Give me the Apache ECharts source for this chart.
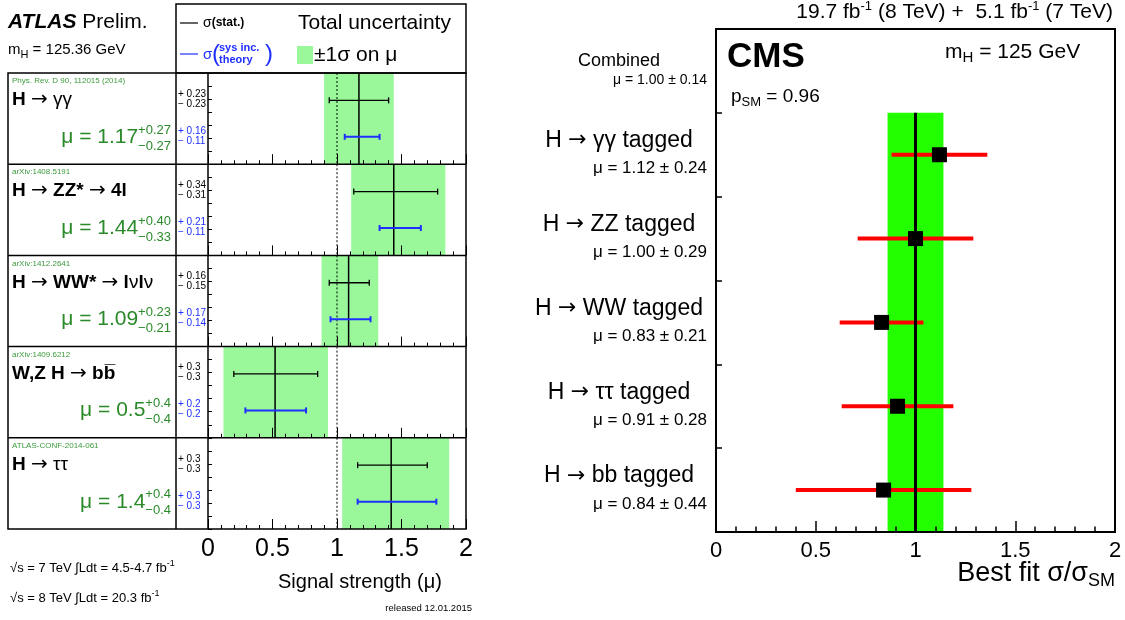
<!DOCTYPE html>
<html>
<head>
<meta charset="utf-8">
<script src="https://cdn.jsdelivr.net/npm/echarts@6/dist/echarts.min.js"></script>
<style>
html, body { margin: 0; padding: 0; background: #fff; }
#main { width: 1125px; height: 620px; }
</style>
</head>
<body>
<div id="main"></div>
<script>
// ---- ATLAS data ----
var atlasRefs = ['Phys. Rev. D 90, 112015 (2014)', 'arXiv:1408.5191', 'arXiv:1412.2641', 'arXiv:1409.6212', 'ATLAS-CONF-2014-061'];
var atlasNames = [
  '{b|H }{a|→}{n| γγ}',
  '{b|H }{a|→}{b| ZZ* }{a|→}{b| 4l}',
  '{b|H }{a|→}{b| WW* }{a|→}{b| l}{n|ν}{b|l}{n|ν}',
  '{b|W,Z H }{a|→}{b| bb\u0305}',
  '{b|H }{a|→}{n| ττ}'
];
var atlasMu = [1.17, 1.44, 1.09, 0.52, 1.42];
var atlasTotDn = [0.27, 0.33, 0.21, 0.40, 0.38];
var atlasTotUp = [0.27, 0.40, 0.23, 0.41, 0.45];
var atlasStatDn = [0.23, 0.31, 0.15, 0.32, 0.26];
var atlasStatUp = [0.23, 0.34, 0.16, 0.33, 0.28];
var atlasSysDn = [0.11, 0.11, 0.14, 0.23, 0.26];
var atlasSysUp = [0.16, 0.21, 0.17, 0.24, 0.35];
// printed numbers
var atlasMuText = ['1.17', '1.44', '1.09', '0.5', '1.4'];
var atlasTotText = [['+0.27', '−0.27'], ['+0.40', '−0.33'], ['+0.23', '−0.21'], ['+0.4', '−0.4'], ['+0.4', '−0.4']];
var atlasStatText = [['+ 0.23', '− 0.23'], ['+ 0.34', '− 0.31'], ['+ 0.16', '− 0.15'], ['+ 0.3', '− 0.3'], ['+ 0.3', '− 0.3']];
var atlasSysText = [['+ 0.16', '− 0.11'], ['+ 0.21', '− 0.11'], ['+ 0.17', '− 0.14'], ['+ 0.2', '− 0.2'], ['+ 0.3', '− 0.3']];

// ---- CMS data ----
var cmsChannels = ['γγ', 'ZZ', 'WW', 'ττ', 'bb'];
var cmsMu = [1.12, 1.00, 0.83, 0.91, 0.84];
var cmsErr = [0.24, 0.29, 0.21, 0.28, 0.44];
var cmsCombined = [1.00, 0.14];

var FONT = '"Liberation Sans", Arial, Helvetica, sans-serif';
var ARROW_FONT = '"DejaVu Sans", sans-serif';
var ROW_H = 91.2;
var Y_MAX = 7;              // row height in y units (7 small ticks per row)
var STAT_Y = 4.9, SYS_Y = 2.1;
var BLUE = '#1f2fff';
var GREEN_TXT = '#2a8a2a';
var ATLAS_BAND = '#9af89a';
var CMS_BAND = '#24ff00';

var ctx = document.createElement('canvas').getContext('2d');
function tw(s, size) {
  ctx.font = size + 'px ' + FONT;
  return ctx.measureText(s).width;
}
function R(size, o) {
  o = o || {};
  var r = {fontSize: size, fontFamily: o.family || FONT, fontWeight: o.bold ? 'bold' : 'normal',
    fontStyle: o.italic ? 'italic' : 'normal', fill: o.color || '#000'};
  if (o.pad) r.padding = o.pad;
  return r;
}
function txt(x, y, text, size, o) {
  o = o || {};
  var st = {text: text, fontSize: size, fontFamily: FONT, fontWeight: o.bold ? 'bold' : 'normal',
    fill: o.color || '#000', align: o.align || 'left', verticalAlign: 'middle'};
  if (o.rich) st.rich = o.rich;
  return {type: 'text', x: x, y: y, z: 100, silent: true, style: st};
}
function line(x1, y1, x2, y2, w, c) {
  return {type: 'line', z: 100, silent: true, shape: {x1: x1, y1: y1, x2: x2, y2: y2},
    style: {stroke: c || '#000', lineWidth: w || 1.5}};
}

function errBar(api, mu, dn, up, y, color, width) {
  var a = api.coord([mu - dn, y]), b = api.coord([mu + up, y]);
  return [
    {type: 'line', shape: {x1: a[0], y1: a[1], x2: b[0], y2: b[1]}, style: {stroke: color, lineWidth: width}},
    {type: 'line', shape: {x1: a[0], y1: a[1] - 3, x2: a[0], y2: a[1] + 3}, style: {stroke: color, lineWidth: width}},
    {type: 'line', shape: {x1: b[0], y1: b[1] - 3, x2: b[0], y2: b[1] + 3}, style: {stroke: color, lineWidth: width}}
  ];
}

function atlasRender(params, api) {
  var mu = api.value(0);
  var b0 = api.coord([mu - api.value(1), Y_MAX]), b1 = api.coord([mu + api.value(2), 0]);
  var m0 = api.coord([mu, Y_MAX]), m1 = api.coord([mu, 0]);
  var r0 = api.coord([1, Y_MAX]), r1 = api.coord([1, 0]);
  var kids = [
    {type: 'rect', shape: {x: b0[0], y: b0[1], width: b1[0] - b0[0], height: b1[1] - b0[1]}, style: {fill: ATLAS_BAND}},
    {type: 'line', shape: {x1: r0[0], y1: r0[1], x2: r1[0], y2: r1[1]}, style: {stroke: '#000', lineWidth: 1, lineDash: [2, 2]}},
    {type: 'line', shape: {x1: m0[0], y1: m0[1], x2: m1[0], y2: m1[1]}, style: {stroke: '#000', lineWidth: 1.5}}
  ];
  kids = kids.concat(errBar(api, mu, api.value(3), api.value(4), STAT_Y, '#000', 1.3));
  kids = kids.concat(errBar(api, mu, api.value(5), api.value(6), SYS_Y, BLUE, 2));
  return {type: 'group', children: kids};
}

var grids = [], xAxes = [], yAxes = [], series = [], graphics = [];

for (var i = 0; i < atlasMu.length; i++) {
  var rowTop = 73 + ROW_H * i;
  grids.push({left: 208, top: rowTop, width: 258, height: ROW_H, outerBoundsMode: 'none', containLabel: false});
  xAxes.push({type: 'value', gridIndex: i, min: 0, max: 2, interval: 0.5, z: 10,
    axisLine: {show: false}, splitLine: {show: false},
    axisTick: {show: true, inside: true, length: 10, lineStyle: {color: '#000', width: 1}},
    minorTick: {show: true, splitNumber: 5, length: 4, lineStyle: {color: '#000', width: 1}},
    axisLabel: {show: i === atlasMu.length - 1, fontSize: 25, fontFamily: FONT, color: '#000', margin: 8}});
  yAxes.push({type: 'value', gridIndex: i, min: 0, max: Y_MAX, interval: 1, z: 10,
    axisLine: {show: false}, splitLine: {show: false},
    axisTick: {show: true, inside: true, length: 4, lineStyle: {color: '#000', width: 1}},
    axisLabel: {show: false}});
  series.push({type: 'custom', xAxisIndex: i, yAxisIndex: i, silent: true, renderItem: atlasRender,
    data: [[atlasMu[i], atlasTotDn[i], atlasTotUp[i], atlasStatDn[i], atlasStatUp[i], atlasSysDn[i], atlasSysUp[i]]]});

  // row labels
  graphics.push(txt(12, rowTop + 8, atlasRefs[i], 8, {color: '#3c9a3c'}));
  graphics.push(txt(12, rowTop + 27, atlasNames[i], 19,
    {rich: {b: R(19, {bold: true}), n: R(19), a: R(20, {family: ARROW_FONT})}}));
  var supW = Math.max(tw(atlasTotText[i][0], 13), tw(atlasTotText[i][1], 13));
  var x0 = 171 - supW;
  graphics.push(txt(x0, rowTop + 64, 'μ = ' + atlasMuText[i], 21, {color: GREEN_TXT, align: 'right'}));
  graphics.push(txt(x0, rowTop + 57, atlasTotText[i][0], 13, {color: GREEN_TXT}));
  graphics.push(txt(x0, rowTop + 73, atlasTotText[i][1], 13, {color: GREEN_TXT}));
  graphics.push(txt(178, rowTop + 21, atlasStatText[i][0], 10));
  graphics.push(txt(178, rowTop + 31, atlasStatText[i][1], 10));
  graphics.push(txt(178, rowTop + 58, atlasSysText[i][0], 10, {color: BLUE}));
  graphics.push(txt(178, rowTop + 68, atlasSysText[i][1], 10, {color: BLUE}));
  if (i > 0) graphics.push(line(8, rowTop, 466, rowTop));
}

// ATLAS frames
var atlasBottom = 73 + ROW_H * atlasMu.length;
graphics.push({type: 'rect', z: 100, silent: true, shape: {x: 8, y: 73, width: 458, height: atlasBottom - 73},
  style: {fill: 'none', stroke: '#000', lineWidth: 1.5}});
graphics.push({type: 'rect', z: 100, silent: true, shape: {x: 176, y: 4, width: 290, height: 69},
  style: {fill: 'none', stroke: '#000', lineWidth: 1.5}});
graphics.push(line(176, 73, 176, atlasBottom));
graphics.push(line(208, 73, 208, atlasBottom));

// ATLAS header & legend
graphics.push(txt(8, 22, '{bi|ATLAS}{n| Prelim.}', 21, {rich: {bi: R(21, {bold: true, italic: true}), n: R(21)}}));
graphics.push(txt(8, 50, '{n|m}{s|H}{n| = 125.36 GeV}', 15, {rich: {n: R(15), s: R(11, {pad: [9, 0, 0, 0]})}}));
graphics.push(line(180, 23, 198, 23, 1.2, '#000'));
graphics.push(txt(203, 23, '{n|σ}{b|(stat.)}', 13, {rich: {n: R(14), b: R(12, {bold: true})}}));
graphics.push(line(180, 54, 198, 54, 1.2, BLUE));
graphics.push(txt(203, 55, 'σ', 15, {color: BLUE}));
graphics.push(txt(212, 54, '(', 24, {color: BLUE}));
graphics.push(txt(219, 48, 'sys inc.', 11, {color: BLUE, bold: true}));
graphics.push(txt(219, 60, 'theory', 11, {color: BLUE, bold: true}));
graphics.push(txt(265, 54, ')', 24, {color: BLUE}));
graphics.push(txt(298, 23, 'Total uncertainty', 21));
graphics.push({type: 'rect', z: 100, silent: true, shape: {x: 297, y: 46, width: 16, height: 18}, style: {fill: ATLAS_BAND}});
graphics.push(txt(314, 55, '±1σ on μ', 21));

// ATLAS footer
var supRich = {n: R(13), s: R(9, {pad: [0, 0, 9, 0]})};
graphics.push(txt(10, 568, '{n|√s = 7 TeV ∫Ldt = 4.5-4.7 fb}{s|-1}', 13, {rich: supRich}));
graphics.push(txt(10, 598, '{n|√s = 8 TeV ∫Ldt = 20.3 fb}{s|-1}', 13, {rich: supRich}));
graphics.push(txt(278, 582, 'Signal strength (μ)', 20));
graphics.push(txt(472, 608, 'released 12.01.2015', 9.5, {align: 'right'}));

// ---- CMS panel ----
var nCms = cmsChannels.length;
var cmsRows = cmsChannels.slice().reverse().concat(['Combined']);
var cmsRowMu = cmsMu.slice().reverse().concat([cmsCombined[0]]);
var cmsRowErr = cmsErr.slice().reverse().concat([cmsCombined[1]]);

grids.push({left: 716, top: 29, width: 399, height: 503, show: true, borderColor: '#000', borderWidth: 2,
  backgroundColor: 'transparent', outerBoundsMode: 'none', containLabel: false});
var G = grids.length - 1;
xAxes.push({type: 'value', gridIndex: G, min: 0, max: 2, interval: 0.5, z: 10,
  axisLine: {show: true, lineStyle: {color: '#000', width: 2}}, splitLine: {show: false},
  axisTick: {show: true, inside: true, length: 11, lineStyle: {color: '#000', width: 1.5}},
  minorTick: {show: true, splitNumber: 5, length: 5.5, lineStyle: {color: '#000', width: 1.5}},
  axisLabel: {fontSize: 22, fontFamily: FONT, color: '#000', margin: 8}});
yAxes.push({type: 'value', gridIndex: G, position: 'left', min: 0, max: nCms + 1, interval: 1, z: 10,
  axisLine: {show: true, lineStyle: {color: '#000', width: 2}}, splitLine: {show: false},
  axisTick: {show: true, inside: true, length: 6, lineStyle: {color: '#000', width: 1.5}},
  axisLabel: {show: false}});
var YV = yAxes.length - 1;
yAxes.push({type: 'category', gridIndex: G, position: 'left', offset: 0, data: cmsRows, boundaryGap: true,
  axisLine: {show: false}, axisTick: {show: false}, splitLine: {show: false},
  axisLabel: {margin: 9, interval: 0,
    formatter: function (v, idx) {
      var m = 'μ = ' + cmsRowMu[idx].toFixed(2) + ' ± ' + cmsRowErr[idx].toFixed(2);
      if (v === 'Combined') return '{ct|' + v + '}\n{cm|' + m + '}';
      return '{t|H }{a|→}{t| ' + v + ' tagged}\n{m|' + m + '}';
    },
    rich: {
      t: {fontSize: 23, fontFamily: FONT, color: '#000', lineHeight: 28, align: 'center'},
      a: {fontSize: 22, fontFamily: ARROW_FONT, color: '#000', lineHeight: 28, align: 'center'},
      m: {fontSize: 17, fontFamily: FONT, color: '#000', lineHeight: 28, width: 176, align: 'right'},
      ct: {fontSize: 18, fontFamily: FONT, color: '#000', lineHeight: 19, align: 'center'},
      cm: {fontSize: 14, fontFamily: FONT, color: '#000', lineHeight: 19, width: 176, align: 'right'}
    }}});

var cmsPts = cmsMu.map(function (m, k) { return [m, cmsErr[k], nCms - 1 - k + 0.5]; });

series.push({type: 'custom', xAxisIndex: G, yAxisIndex: YV, silent: true, z: 1,
  data: [[cmsCombined[0], cmsCombined[1], nCms]],
  renderItem: function (params, api) {
    var mu = api.value(0), e = api.value(1), n = api.value(2);
    var p0 = api.coord([mu - e, n]), p1 = api.coord([mu + e, 0]);
    return {type: 'rect', shape: {x: p0[0], y: p0[1], width: p1[0] - p0[0], height: p1[1] - p0[1]}, style: {fill: CMS_BAND}};
  }});
series.push({type: 'custom', xAxisIndex: G, yAxisIndex: YV, silent: true, z: 2,
  data: cmsPts,
  renderItem: function (params, api) {
    var a = api.coord([api.value(0) - api.value(1), api.value(2)]);
    var b = api.coord([api.value(0) + api.value(1), api.value(2)]);
    return {type: 'line', shape: {x1: a[0], y1: a[1], x2: b[0], y2: b[1]}, style: {stroke: '#ff0000', lineWidth: 4}};
  }});
series.push({type: 'custom', xAxisIndex: G, yAxisIndex: YV, silent: true, z: 3,
  data: [[cmsCombined[0], cmsCombined[1], nCms]],
  renderItem: function (params, api) {
    var c0 = api.coord([api.value(0), api.value(2)]), c1 = api.coord([api.value(0), 0]);
    return {type: 'line', shape: {x1: c0[0], y1: c0[1], x2: c1[0], y2: c1[1]}, style: {stroke: '#000', lineWidth: 3}};
  }});
series.push({type: 'scatter', xAxisIndex: G, yAxisIndex: YV, silent: true, z: 4,
  symbol: 'rect', symbolSize: 15, itemStyle: {color: '#000', opacity: 1},
  data: cmsPts.map(function (p) { return [p[0], p[2]]; })});

// CMS texts
function subRich(size, subSize) { return {n: R(size), s: R(subSize, {pad: [Math.round(size * 0.55), 0, 0, 0]})}; }
graphics.push(txt(1113, 12, '{n|19.7 fb}{s|-1}{n| (8 TeV) +  5.1 fb}{s|-1}{n| (7 TeV)}', 21,
  {align: 'right', rich: {n: R(21), s: R(13, {pad: [0, 0, 12, 0]})}}));
graphics.push(txt(727, 57, 'CMS', 35, {bold: true}));
graphics.push(txt(945, 52, '{n|m}{s|H}{n| = 125 GeV}', 21, {rich: subRich(21, 15)}));
graphics.push(txt(731, 97, '{n|p}{s|SM}{n| = 0.96}', 19, {rich: subRich(19, 13)}));
graphics.push(txt(1115, 574, '{n|Best fit σ/σ}{s|SM}', 27, {align: 'right', rich: subRich(27, 18)}));

var chart = echarts.init(document.getElementById('main'));
chart.setOption({
  animation: false,
  backgroundColor: '#fff',
  grid: grids,
  xAxis: xAxes,
  yAxis: yAxes,
  series: series,
  graphic: {elements: graphics}
});
</script>
</body>
</html>
